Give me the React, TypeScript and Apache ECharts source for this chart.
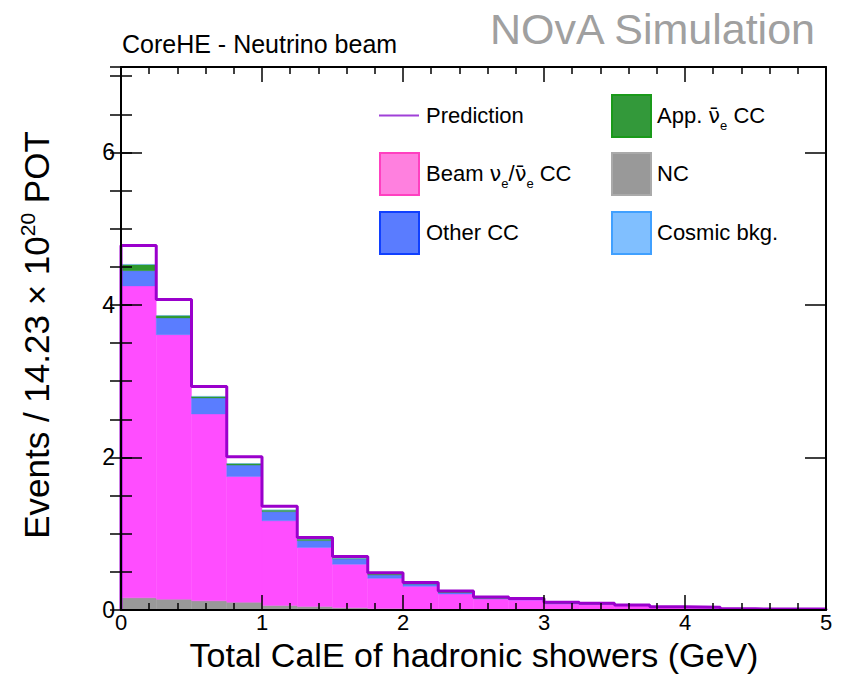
import React, { useEffect, useRef } from "react";
import * as echarts from "echarts";

// Histogram binning in total hadronic calorimetric energy (GeV)
const binEdges = [0, 0.25, 0.5, 0.75, 1, 1.25, 1.5, 1.75, 2, 2.25, 2.5, 2.75, 3, 3.25, 3.5, 3.75, 4, 4.25, 4.5, 4.75, 5];

// Stacked components, events per bin (bottom to top)
const ncEvents = [0.16, 0.14, 0.12, 0.1, 0.06, 0.045, 0.03, 0.02, 0.012, 0.01, 0.008, 0.006, 0.005, 0.004, 0.003, 0.002, 0.002, 0.001, 0.001, 0.001];
const beamNueEvents = [4.09, 3.47, 2.45, 1.65, 1.11, 0.775, 0.57, 0.395, 0.298, 0.2, 0.137, 0.124, 0.075, 0.071, 0.055, 0.036, 0.028, 0.009, 0.008, 0.008];
const otherCCEvents = [0.2, 0.22, 0.21, 0.15, 0.12, 0.09, 0.07, 0.045, 0.03, 0.02, 0.01, 0.01, 0.008, 0.005, 0.004, 0.002, 0.002, 0.001, 0.001, 0.001];
const appNuebarEvents = [0.08, 0.03, 0.02, 0.02, 0.02, 0.02, 0.01, 0.01, 0.005, 0.005, 0.003, 0.002, 0.001, 0.001, 0.001, 0.001, 0.001, 0.001, 0.001, 0.001];
const cosmicEvents = [0.002, 0.002, 0.001, 0.001, 0.001, 0.001, 0.001, 0.0, 0.0, 0.0, 0.0, 0.0, 0.0, 0.0, 0.0, 0.0, 0.0, 0.0, 0.0, 0.0];

// Total prediction drawn as an outline
const predictionEvents = [4.78, 4.07, 2.93, 2.01, 1.36, 0.95, 0.7, 0.49, 0.36, 0.25, 0.17, 0.15, 0.1, 0.088, 0.066, 0.043, 0.035, 0.015, 0.013, 0.012];

const yLabels = [0, 2, 4, 6];

const FONT = "'Liberation Sans', Arial, Helvetica, sans-serif";
const GREEK_FONT = "'DejaVu Sans', 'Liberation Sans', sans-serif";

const stackDefs = [
  { name: "NC", values: ncEvents, color: "#999999" },
  { name: "Beam", values: beamNueEvents, color: "#ff4dff" },
  { name: "Other CC", values: otherCCEvents, color: "#5a7dff" },
  { name: "App", values: appNuebarEvents, color: "#2e9a2e" },
  { name: "Cosmic", values: cosmicEvents, color: "#80bfff" },
];

function buildStackSeries() {
  const base = new Array(binEdges.length - 1).fill(0);
  return stackDefs.map((def, k) => {
    const data = def.values.map((v, i) => {
      const lo = base[i];
      const hi = lo + v;
      base[i] = hi;
      return [binEdges[i], binEdges[i + 1], lo, hi];
    });
    return {
      type: "custom",
      name: def.name,
      xAxisIndex: 0,
      yAxisIndex: 0,
      z: 2 + k * 0.01,
      encode: { x: [0, 1], y: [2, 3] },
      data,
      renderItem: (params: any, api: any) => {
        const p0 = api.coord([api.value(0), api.value(3)]);
        const p1 = api.coord([api.value(1), api.value(2)]);
        const h = p1[1] - p0[1];
        if (h <= 0) return null;
        return {
          type: "rect",
          shape: { x: p0[0], y: p0[1], width: p1[0] - p0[0], height: h },
          style: { fill: def.color, stroke: def.color, lineWidth: 0.4 },
        };
      },
    };
  });
}

function buildPredictionLine() {
  const pts: number[][] = [[binEdges[0], 0]];
  predictionEvents.forEach((v, i) => pts.push([binEdges[i], v]));
  const last = predictionEvents[predictionEvents.length - 1];
  pts.push([binEdges[binEdges.length - 1], last]);
  pts.push([binEdges[binEdges.length - 1], 0]);
  return {
    type: "line",
    name: "Prediction",
    xAxisIndex: 0,
    yAxisIndex: 0,
    step: "end",
    symbol: "none",
    showSymbol: false,
    z: 5,
    lineStyle: { color: "#9a00cc", width: 3 },
    data: pts,
  };
}

const tickStyle = { color: "#000", width: 1.5 };
const frameLine = { show: true, onZero: false, lineStyle: { color: "#000", width: 2 } };

function xAxisDef(position: "bottom" | "top", labels: boolean) {
  return {
    type: "value",
    position,
    min: 0,
    max: 5,
    interval: 1,
    z: 10,
    axisLine: frameLine,
    axisTick: { show: true, inside: true, length: 15, lineStyle: tickStyle },
    minorTick: { show: true, splitNumber: 5, length: 7, lineStyle: tickStyle },
    splitLine: { show: false },
    minorSplitLine: { show: false },
    axisLabel: labels
      ? { show: true, margin: 3, fontSize: 22, lineHeight: 18, color: "#000", fontFamily: FONT }
      : { show: false },
  };
}

const Y_MAX = 7.12;

function yAxisDef(position: "left" | "right", major: boolean, labels: boolean) {
  return {
    type: "value",
    position,
    min: 0,
    max: Y_MAX,
    interval: major ? 2 : 0.5,
    z: 10,
    axisLine: major ? frameLine : { show: false },
    axisTick: {
      show: true,
      inside: true,
      length: major ? 21 : 11,
      lineStyle: tickStyle,
    },
    minorTick: { show: false },
    splitLine: { show: false },
    axisLabel: labels
      ? {
          show: true,
          margin: 6,
          fontSize: 23,
          lineHeight: 18,
          color: "#000",
          fontFamily: FONT,
          formatter: (v: number) => (yLabels.indexOf(v) >= 0 ? String(v) : ""),
        }
      : { show: false },
  };
}

const LEG_FONT = 22;
const legendRich = {
  sub: { fontSize: 13, fontFamily: FONT, fill: "#000", verticalAlign: "bottom", lineHeight: 13 },
  nu: { fontSize: 21, fontFamily: GREEK_FONT, fill: "#000", lineHeight: 32 },
};

function legendSwatch(x: number, y: number, fill: string, stroke: string) {
  return {
    type: "rect",
    shape: { x, y, width: 39, height: 42 },
    style: { fill, stroke, lineWidth: 2 },
    z: 20,
  };
}

function legendText(x: number, y: number, text: string) {
  return {
    type: "text",
    x,
    y,
    z: 20,
    style: {
      text,
      fontSize: LEG_FONT,
      fontFamily: FONT,
      fill: "#000",
      align: "left",
      verticalAlign: "middle",
      lineHeight: 32,
      rich: legendRich,
    },
  };
}

export default function App() {
  const ref = useRef<HTMLDivElement>(null);

  useEffect(() => {
    if (!ref.current) return;
    const chart = echarts.init(ref.current, undefined, { renderer: "svg" });

    const option: any = {
      animation: false,
      backgroundColor: "#ffffff",
      grid: {
        left: 121,
        right: 16,
        top: 67,
        bottom: 64,
        containLabel: false,
        outerBoundsMode: "none",
      },
      xAxis: [xAxisDef("bottom", true), xAxisDef("top", false)],
      yAxis: [
        yAxisDef("left", true, true),
        yAxisDef("left", false, false),
        yAxisDef("right", true, false),
        yAxisDef("right", false, false),
      ],
      series: [...buildStackSeries(), buildPredictionLine()],
      graphic: [
        {
          type: "text",
          x: 122,
          y: 44,
          style: {
            text: "CoreHE - Neutrino beam",
            fontSize: 25,
            fontFamily: FONT,
            fill: "#000",
            align: "left",
            verticalAlign: "middle",
          },
        },
        {
          type: "text",
          x: 815,
          y: 29,
          style: {
            text: "NOvA Simulation",
            fontSize: 43,
            fontFamily: FONT,
            fill: "#a0a0a0",
            align: "right",
            verticalAlign: "middle",
          },
        },
        {
          type: "text",
          x: 474,
          y: 654.5,
          style: {
            text: "Total CalE of hadronic showers (GeV)",
            fontSize: 34,
            lineHeight: 26,
            fontFamily: FONT,
            fill: "#000",
            align: "center",
            verticalAlign: "middle",
          },
        },
        {
          type: "text",
          x: 36,
          y: 335,
          rotation: Math.PI / 2,
          style: {
            text: "Events / 14.23 × 10{sup|20} POT",
            fontSize: 35,
            fontFamily: FONT,
            fill: "#000",
            align: "center",
            verticalAlign: "middle",
            lineHeight: 38,
            rich: {
              sup: { fontSize: 21, fontFamily: FONT, fill: "#000", verticalAlign: "top", lineHeight: 21 },
            },
          },
        },
        // Legend, left column
        {
          type: "line",
          shape: { x1: 379, y1: 115.5, x2: 419, y2: 115.5 },
          style: { stroke: "#a040d8", lineWidth: 2 },
          z: 20,
        },
        legendText(426, 115.5, "Prediction"),
        legendSwatch(380, 153, "#ff80df", "#ff40c0"),
        legendText(426, 173.5, "Beam {nu|ν}{sub|e}/{nu|ν̄}{sub|e} CC"),
        legendSwatch(380, 212, "#5a7cff", "#1040ff"),
        legendText(426, 232.5, "Other CC"),
        // Legend, right column
        legendSwatch(612, 95, "#33993a", "#1a9a1a"),
        legendText(657, 115.5, "App. {nu|ν̄}{sub|e} CC"),
        legendSwatch(612, 153, "#999999", "#aaaaaa"),
        legendText(657, 173.5, "NC"),
        legendSwatch(612, 212, "#80bfff", "#40a0ff"),
        legendText(657, 232.5, "Cosmic bkg."),
      ],
    };

    chart.setOption(option);
    return () => chart.dispose();
  }, []);

  return (
    <div
      ref={ref}
      style={{ position: "fixed", left: 0, top: 0, width: 842, height: 674, background: "#fff" }}
    />
  );
}
